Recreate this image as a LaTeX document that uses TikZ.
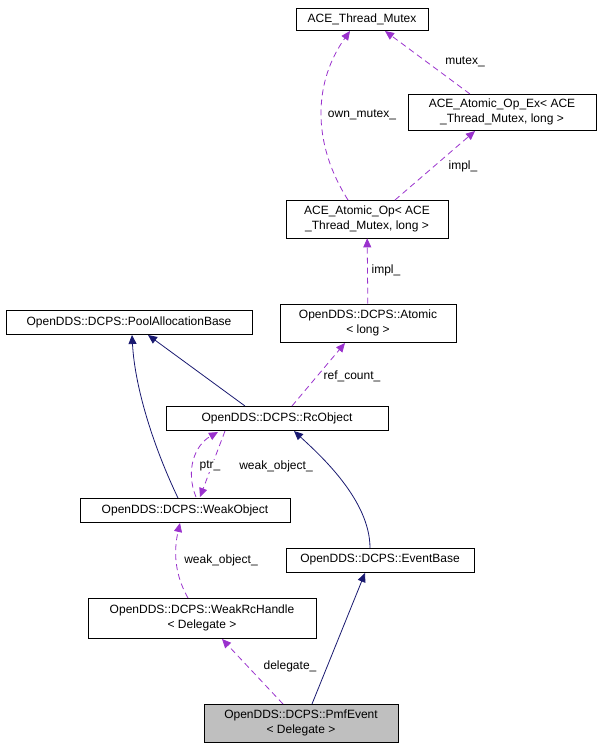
\documentclass[tikz,border=0pt]{standalone}
\usepackage{fontspec}
\setmainfont{Liberation Sans}
\usetikzlibrary{arrows.meta}
\begin{document}
\begin{tikzpicture}[x=1pt,y=-1pt,
  box/.style={draw=black,fill=white,inner sep=1pt,align=center,font=\fontsize{12}{14.5}\selectfont,line width=0.7pt},
  mem/.style={draw={rgb,255:red,154;green,50;blue,205},dashed,dash pattern=on 6pt off 4pt,line width=0.8pt,-{Triangle[length=9pt,width=8pt]}},
  inh/.style={draw={rgb,255:red,25;green,25;blue,112},line width=0.8pt,-{Triangle[length=9pt,width=8pt]}},
  lab/.style={font=\fontsize{12}{14}\selectfont,fill=white,inner sep=1pt}]
\useasboundingbox (0,0) rectangle (601,748);
\node[box,minimum width=132pt,minimum height=22pt] (tm) at (362,19) {ACE\_Thread\_Mutex};
\node[box,minimum width=188pt,minimum height=36pt] (opex) at (502,112) {ACE\_Atomic\_Op\_Ex< ACE\\\_Thread\_Mutex, long >};
\node[box,minimum width=162pt,minimum height=38pt] (op) at (367,219) {ACE\_Atomic\_Op< ACE\\\_Thread\_Mutex, long >};
\node[box,minimum width=176pt,minimum height=38pt] (at) at (368,323) {OpenDDS::DCPS::Atomic\\< long >};
\node[box,minimum width=246pt,minimum height=24pt] (pool) at (129,322) {OpenDDS::DCPS::PoolAllocationBase};
\node[box,minimum width=222pt,minimum height=24pt] (rc) at (277,418) {OpenDDS::DCPS::RcObject};
\node[box,minimum width=210pt,minimum height=24pt] (wo) at (185,510) {OpenDDS::DCPS::WeakObject};
\node[box,minimum width=188pt,minimum height=24pt] (eb) at (380,560) {OpenDDS::DCPS::EventBase};
\node[box,minimum width=228pt,minimum height=40pt] (wh) at (202,618) {OpenDDS::DCPS::WeakRcHandle\\< Delegate >};
\node[box,fill={rgb,255:red,191;green,191;blue,191},minimum width=194pt,minimum height=38pt] (pe) at (301,723) {OpenDDS::DCPS::PmfEvent\\< Delegate >};
% member edges
\draw[mem] (348,200) .. controls (310,140) and (315,80) .. (350,31);
\node[lab] at (362,115) {own\_mutex\_};
\draw[mem] (470,94) -- (385,31);
\node[lab] at (465,62) {mutex\_};
\draw[mem] (395,200) -- (475,131);
\node[lab] at (463,166) {impl\_};
\draw[mem] (at) -- (op);
\node[lab] at (386,270) {impl\_};
\draw[mem] (292,406) -- (345,343);
\node[lab] at (352,376) {ref\_count\_};
\draw[mem] (225,431) -- (200,497);
\node[lab] at (276,466) {weak\_object\_};
\draw[mem] (196,497) .. controls (185,470) and (195,445) .. (218,432);
\node[lab] at (210,466) {ptr\_};
\draw[mem] (188,598) .. controls (172,570) and (175,545) .. (180,523);
\node[lab] at (221,560) {weak\_object\_};
\draw[mem] (283,704) -- (222,639);
\node[lab] at (290,666) {delegate\_};
% inheritance edges
\draw[inh] (245,406) -- (148,335);
\draw[inh] (178,498) .. controls (155,450) and (135,390) .. (132,335);
\draw[inh] (312,704) -- (365,573);
\draw[inh] (370,548) .. controls (370,500) and (320,455) .. (294,431);
\end{tikzpicture}
\end{document}
